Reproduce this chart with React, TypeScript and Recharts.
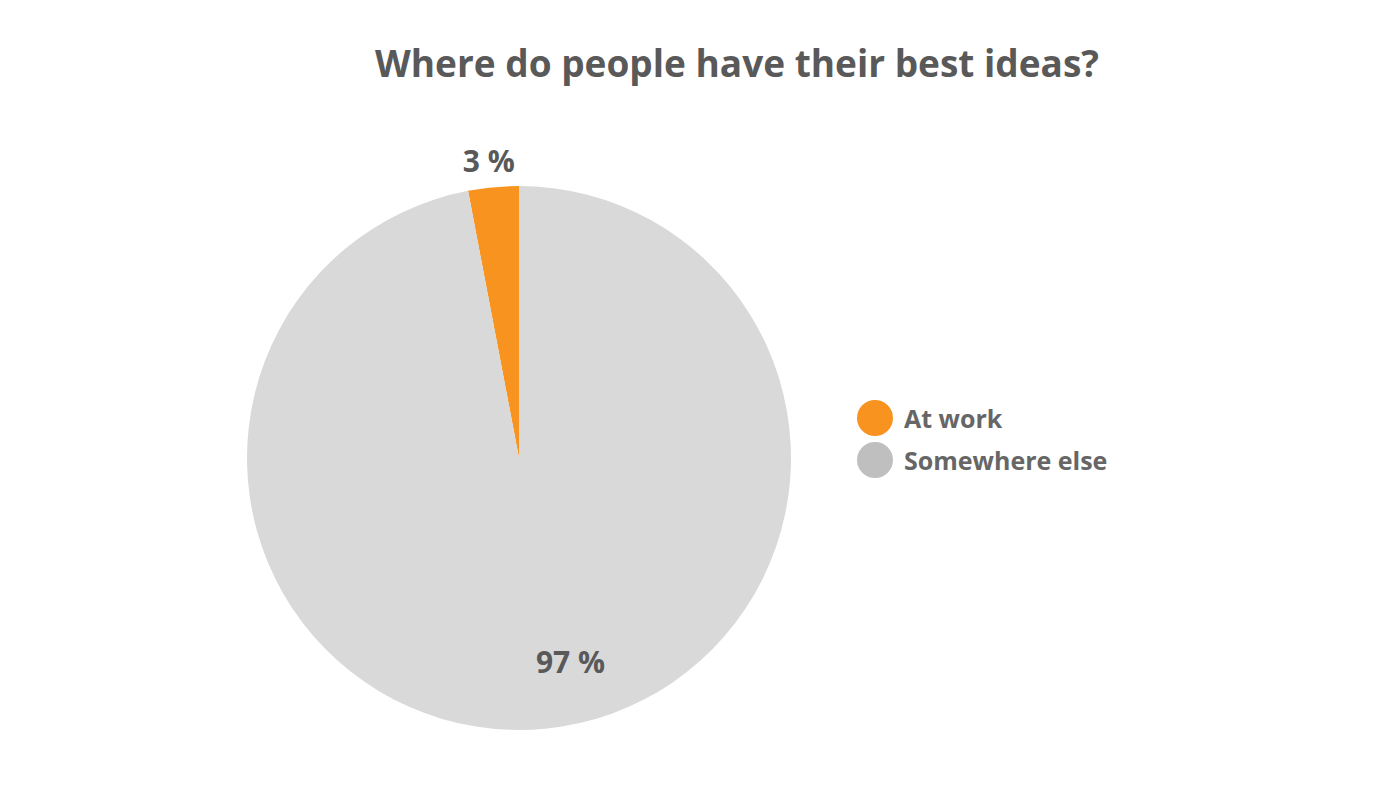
import { PieChart, Pie, Cell, Legend } from "recharts";

const categories = ["At work", "Somewhere else"];
const shares = [3, 97];
const sliceColors = ["#F7931E", "#D9D9D9"];
const legendColors = ["#F7931E", "#BFBFBF"];

const data = categories.map((name, i) => ({ name, value: shares[i] }));

const FONT = "'Open Sans', 'Noto Sans', sans-serif";
const RADIAN = Math.PI / 180;

// label radius / nudge per slice (Excel-style placement)
const labelRadius = [1.1, 0.76];
const labelNudge = [
  { dx: -2, dy: 0 },
  { dx: 32, dy: -2 },
];

const renderLabel = (props: any) => {
  const { cx, cy, midAngle, outerRadius, index, value } = props;
  const r = outerRadius * labelRadius[index];
  const x = cx + r * Math.cos(-midAngle * RADIAN) + labelNudge[index].dx;
  const y = cy + r * Math.sin(-midAngle * RADIAN) + labelNudge[index].dy;
  return (
    <text
      x={x}
      y={y}
      fill="#595959"
      fontFamily={FONT}
      fontWeight={700}
      fontSize={30}
      textAnchor="middle"
      dominantBaseline="central"
    >
      {`${value} %`}
    </text>
  );
};

const renderLegend = () => (
  <div style={{ fontFamily: FONT }}>
    {categories.map((c, i) => (
      <div key={c} style={{ display: "flex", alignItems: "center", height: 42 }}>
        <span
          style={{
            width: 36,
            height: 36,
            borderRadius: "50%",
            background: legendColors[i],
            display: "inline-block",
            marginRight: 11,
          }}
        />
        <span style={{ color: "#666666", fontWeight: 700, fontSize: 25 }}>{c}</span>
      </div>
    ))}
  </div>
);

export default function App() {
  return (
    <div style={{ position: "absolute", left: 0, top: 0, width: 1400, height: 788, background: "#fff" }}>
      <div
        style={{
          position: "absolute",
          top: 38,
          left: 0,
          width: 1474,
          textAlign: "center",
          fontFamily: FONT,
          fontWeight: 700,
          fontSize: 37,
          color: "#595959",
          lineHeight: "50px",
        }}
      >
        Where do people have their best ideas?
      </div>
      <PieChart width={1400} height={788} margin={{ top: 0, right: 0, bottom: 0, left: 0 }}>
        <Pie
          data={data}
          dataKey="value"
          nameKey="name"
          cx={519}
          cy={458}
          outerRadius={272}
          startAngle={90}
          endAngle={450}
          stroke="none"
          label={renderLabel}
          labelLine={false}
          isAnimationActive={false}
        >
          {data.map((d, i) => (
            <Cell key={d.name} fill={sliceColors[i]} />
          ))}
        </Pie>
        <Legend
          content={renderLegend}
          layout="vertical"
          wrapperStyle={{ position: "absolute", left: 857, top: 397, width: 300 }}
        />
      </PieChart>
    </div>
  );
}
